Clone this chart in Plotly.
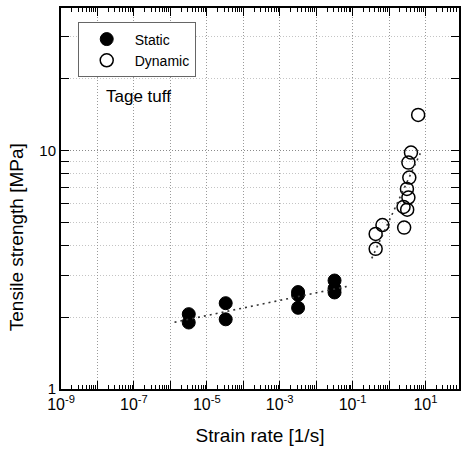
import plotly.graph_objects as go

# Static tests: strain rate [1/s] and tensile strength [MPa]
static_rate = [3.2e-6, 3.2e-6, 3.3e-5, 3.3e-5, 3.2e-3, 3.2e-3, 3.2e-3, 3.2e-2, 3.2e-2, 3.2e-2]
static_strength = [2.06, 1.90, 2.29, 1.96, 2.55, 2.48, 2.19, 2.85, 2.64, 2.54]

# Dynamic tests
dynamic_rate = [6.3, 4.0, 3.4, 3.6, 3.1, 3.4, 2.5, 3.15, 2.6, 0.66, 0.43, 0.43]
dynamic_strength = [14.1, 9.8, 8.9, 7.7, 6.9, 6.35, 5.8, 5.65, 4.75, 4.87, 4.47, 3.87]

# Trend-line end points
static_fit_rate = [1.3e-6, 6.9e-2]
static_fit_strength = [1.905, 2.69]
dynamic_fit_rate = [0.336, 7.2]
dynamic_fit_strength = [3.53, 9.73]

# Axis ticks: labelled odd decades, unlabelled even decades, minor steps
x_labelled = [10.0 ** k for k in range(-9, 2, 2)]
x_ticktext = ["10<sup>%d</sup>" % k for k in range(-9, 2, 2)]
x_even = [10.0 ** k for k in range(-8, 2, 2)]
x_minor = [m * 10.0 ** k for k in range(-9, 2) for m in range(2, 10)]
y_ticks = [1, 10]
y_ticktext = ["1", "10"]
y_minor = [2, 3, 4, 5, 6, 7, 8, 9, 20, 30]

X_RANGE = [-9, 1.92]
FONT = "Arial, Liberation Sans, sans-serif"
DOTS = "1px,2px"

fig = go.Figure()

# trend lines live on the overlay x axis (same log range as the main one)
for fx, fy in ((static_fit_rate, static_fit_strength),
               (dynamic_fit_rate, dynamic_fit_strength)):
    fig.add_trace(go.Scatter(
        x=fx, y=fy, mode="lines", xaxis="x2",
        line=dict(color="#333333", width=1.6, dash="2px,4px"),
        showlegend=False, hoverinfo="skip"))

fig.add_trace(go.Scatter(
    x=static_rate, y=static_strength, mode="markers", name="Static",
    marker=dict(symbol="circle", size=13, color="black",
                line=dict(color="black", width=1))))
fig.add_trace(go.Scatter(
    x=dynamic_rate, y=dynamic_strength, mode="markers", name="Dynamic",
    marker=dict(symbol="circle", size=13, color="rgba(255,255,255,0)",
                line=dict(color="black", width=1.5))))

fig.add_annotation(x=0.108, y=0.767, xref="paper", yref="paper",
                   text="Tage tuff", showarrow=False, xanchor="left",
                   yanchor="middle", font=dict(family=FONT, size=17, color="black"))

# y-axis title, set a little below the middle of the axis
fig.add_annotation(x=-0.11, y=0.399, xref="paper", yref="paper",
                   text="Tensile strength [MPa]", showarrow=False, textangle=-90,
                   xanchor="center", yanchor="middle",
                   font=dict(family=FONT, size=19, color="black"))

fig.update_layout(
    xaxis=dict(
        type="log", range=X_RANGE,
        tickvals=x_labelled, ticktext=x_ticktext,
        ticks="inside", ticklen=8, tickwidth=1.3, tickcolor="black",
        showline=True, linecolor="black", linewidth=2, mirror="allticks",
        showgrid=True, gridcolor="#9a9a9a", griddash=DOTS, gridwidth=1,
        zeroline=False,
        minor=dict(tickvals=x_minor, ticks="inside", ticklen=4, tickwidth=1,
                   tickcolor="black", showgrid=False),
        tickfont=dict(family=FONT, size=16, color="black"),
        title=dict(text="Strain rate [1/s]", standoff=16,
                   font=dict(family=FONT, size=19, color="black")),
    ),
    xaxis2=dict(
        type="log", range=X_RANGE, overlaying="x", side="bottom",
        tickvals=x_even, showticklabels=False,
        ticks="inside", ticklen=8, tickwidth=1.3, tickcolor="black",
        showline=False, mirror="ticks",
        showgrid=True, gridcolor="#9a9a9a", griddash=DOTS, gridwidth=1,
        zeroline=False,
    ),
    yaxis=dict(
        type="log", range=[0, 1.5975],
        tickvals=y_ticks, ticktext=y_ticktext,
        ticks="inside", ticklen=8, tickwidth=1.3, tickcolor="black",
        showline=True, linecolor="black", linewidth=2, mirror="allticks",
        showgrid=True, gridcolor="#8a8a8a", griddash=DOTS, gridwidth=1,
        zeroline=False,
        minor=dict(tickvals=y_minor, ticks="inside", ticklen=4, tickwidth=1,
                   tickcolor="black", showgrid=True, gridcolor="#c4c4c4",
                   griddash=DOTS, gridwidth=1),
        tickfont=dict(family=FONT, size=15, color="black"),
    ),
    width=462, height=450,
    margin=dict(l=61, r=1, t=8, b=61),
    paper_bgcolor="white", plot_bgcolor="white",
    legend=dict(x=0.042, y=0.962, xanchor="left", yanchor="top",
                bgcolor="white", bordercolor="#666666", borderwidth=1,
                font=dict(family=FONT, size=14, color="black"),
                itemwidth=46, tracegroupgap=0),
)

fig.write_html("out.html")
